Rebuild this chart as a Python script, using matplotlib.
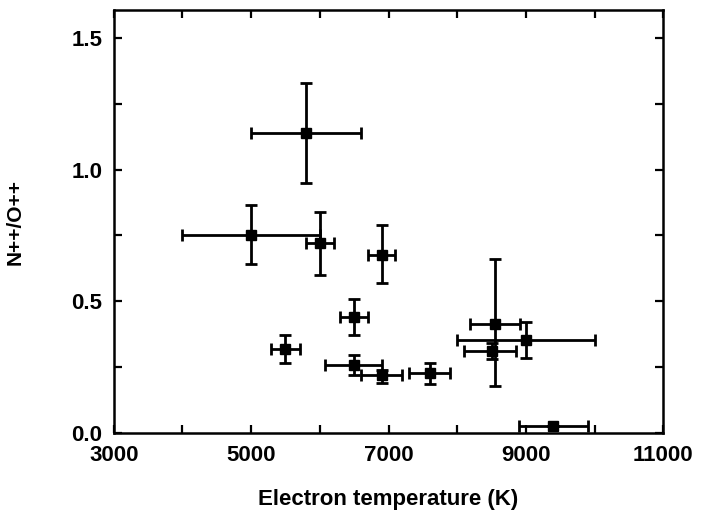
import matplotlib
matplotlib.use("Agg")
import matplotlib.pyplot as plt
from matplotlib.ticker import FixedLocator, MultipleLocator

plt.rcParams['font.family'] = ['Liberation Sans', 'DejaVu Sans']
plt.rcParams['font.weight'] = 'bold'

# electron temperature (K) and N++/O++ with errors
temp = [5800, 5000, 6000, 6900, 6500, 5500, 6500, 6900, 7600, 8550, 8500, 9000, 9400]
temp_lo = [800, 1000, 200, 200, 200, 210, 420, 300, 300, 370, 400, 1000, 500]
temp_hi = [800, 1000, 200, 200, 200, 210, 400, 300, 300, 360, 360, 1000, 500]
ratio = [1.14, 0.75, 0.72, 0.675, 0.44, 0.32, 0.258, 0.219, 0.226, 0.415, 0.31, 0.354, 0.024]
ratio_lo = [0.19, 0.11, 0.12, 0.105, 0.07, 0.053, 0.037, 0.03, 0.04, 0.237, 0.03, 0.07, 0.0]
ratio_hi = [0.19, 0.115, 0.117, 0.115, 0.07, 0.053, 0.038, 0.02, 0.04, 0.247, 0.032, 0.066, 0.0]
x_major = [3000, 5000, 7000, 9000, 11000]
x_minor = [4000, 6000, 8000, 10000]

fig = plt.figure(figsize=(7.02, 5.11), dpi=100)
ax = fig.add_axes([0.162, 0.153, 0.783, 0.827])

ax.errorbar(temp, ratio, xerr=[temp_lo, temp_hi], yerr=[ratio_lo, ratio_hi],
            fmt='s', color='black', markersize=7, elinewidth=2,
            capsize=4, capthick=2)

ax.set_xlim(3000, 11000)
ax.set_ylim(0, 1.605)
ax.xaxis.set_major_locator(FixedLocator(x_major))
ax.xaxis.set_minor_locator(FixedLocator(x_minor))
ax.yaxis.set_major_locator(MultipleLocator(0.5))
ax.yaxis.set_minor_locator(MultipleLocator(0.25))
ax.yaxis.set_major_formatter(plt.FormatStrFormatter('%.1f'))

for side in ax.spines.values():
    side.set_linewidth(1.8)
ax.tick_params(which='both', direction='in', top=True, right=True, width=1.6, length=6)
ax.tick_params(axis='x', labelsize=16, pad=9)
ax.tick_params(axis='y', labelsize=16, pad=8)

ax.set_xlabel('Electron temperature (K)', fontsize=16, fontweight='bold')
ax.xaxis.set_label_coords(0.5, -0.132)
ax.set_ylabel('N++/O++', fontsize=15, fontweight='bold')
ax.yaxis.set_label_coords(-0.162, 0.5)

fig.savefig('out.png', dpi=100)
